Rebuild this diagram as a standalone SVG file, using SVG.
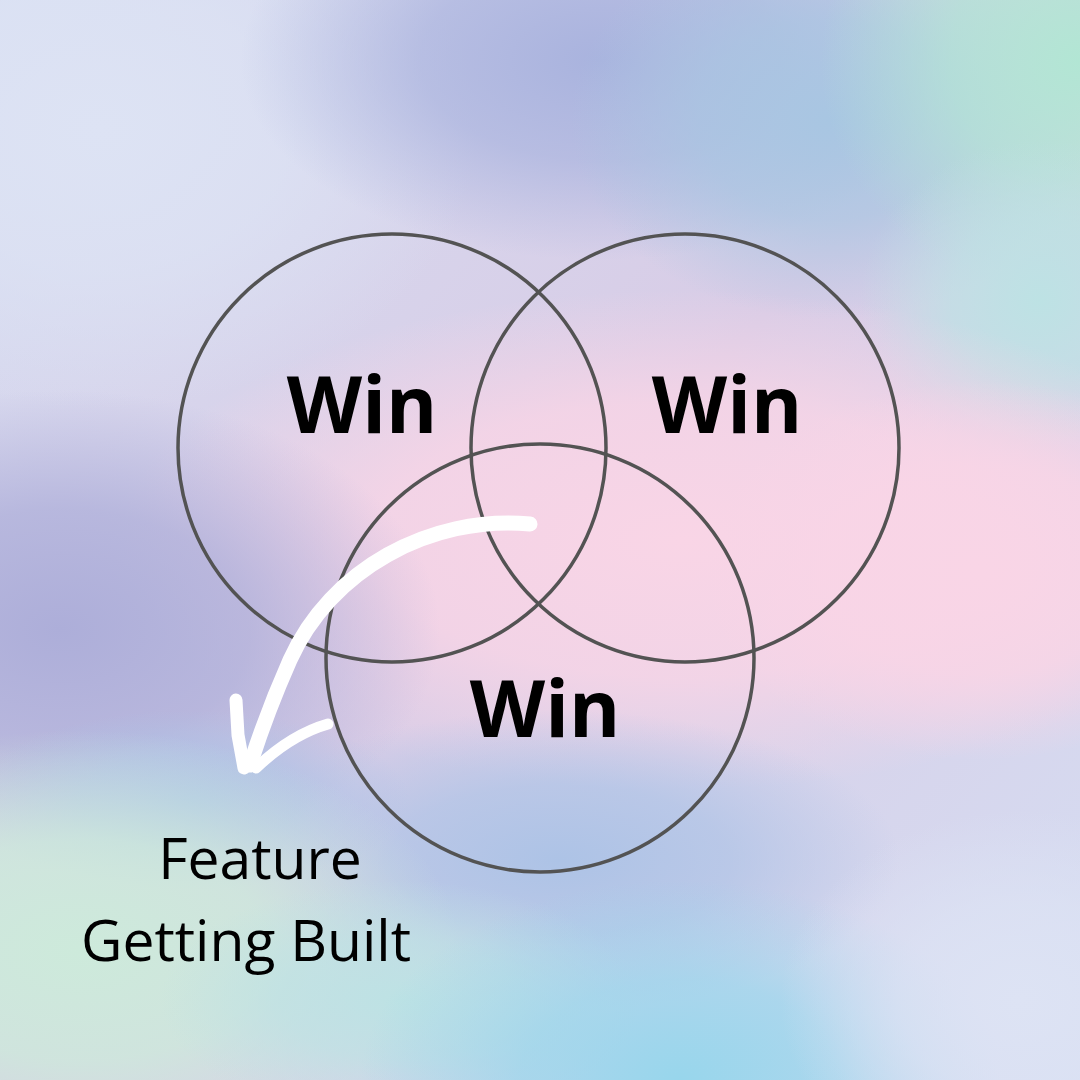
<svg xmlns="http://www.w3.org/2000/svg" width="1080" height="1080" viewBox="0 0 1080 1080">
<defs>
<linearGradient id="base" x1="0" y1="0" x2="1" y2="1">
<stop offset="0" stop-color="#d6def2"/>
<stop offset="0.5" stop-color="#d8cce6"/>
<stop offset="1" stop-color="#d5ddf2"/>
</linearGradient>
<radialGradient id="g1"><stop offset="0" stop-color="#a9b3de" stop-opacity="1"/><stop offset="0.5" stop-color="#a9b3de" stop-opacity="0.7"/><stop offset="1" stop-color="#a9b3de" stop-opacity="0"/></radialGradient>
<radialGradient id="g2"><stop offset="0" stop-color="#b2e6d4" stop-opacity="1"/><stop offset="0.5" stop-color="#b2e6d4" stop-opacity="0.7"/><stop offset="1" stop-color="#b2e6d4" stop-opacity="0"/></radialGradient>
<radialGradient id="g3"><stop offset="0" stop-color="#f9d5e6" stop-opacity="1"/><stop offset="0.55" stop-color="#f9d5e6" stop-opacity="0.8"/><stop offset="1" stop-color="#f9d5e6" stop-opacity="0"/></radialGradient>
<radialGradient id="g4"><stop offset="0" stop-color="#adaed9" stop-opacity="1"/><stop offset="0.5" stop-color="#adaed9" stop-opacity="0.75"/><stop offset="1" stop-color="#adaed9" stop-opacity="0"/></radialGradient>
<radialGradient id="g5"><stop offset="0" stop-color="#cdeadb" stop-opacity="1"/><stop offset="0.5" stop-color="#cdeadb" stop-opacity="0.8"/><stop offset="1" stop-color="#cdeadb" stop-opacity="0"/></radialGradient>
<radialGradient id="g6"><stop offset="0" stop-color="#98d6ec" stop-opacity="1"/><stop offset="0.5" stop-color="#98d6ec" stop-opacity="0.7"/><stop offset="1" stop-color="#98d6ec" stop-opacity="0"/></radialGradient>
<radialGradient id="g7"><stop offset="0" stop-color="#dde3f4" stop-opacity="1"/><stop offset="0.5" stop-color="#dde3f4" stop-opacity="0.7"/><stop offset="1" stop-color="#dde3f4" stop-opacity="0"/></radialGradient>
<radialGradient id="g8"><stop offset="0" stop-color="#adc3e6" stop-opacity="1"/><stop offset="0.5" stop-color="#adc3e6" stop-opacity="0.7"/><stop offset="1" stop-color="#adc3e6" stop-opacity="0"/></radialGradient>
<radialGradient id="g9"><stop offset="0" stop-color="#a8c6e2" stop-opacity="1"/><stop offset="0.5" stop-color="#a8c6e2" stop-opacity="0.7"/><stop offset="1" stop-color="#a8c6e2" stop-opacity="0"/></radialGradient>
<radialGradient id="g10"><stop offset="0" stop-color="#bde2e4" stop-opacity="1"/><stop offset="0.5" stop-color="#bde2e4" stop-opacity="0.7"/><stop offset="1" stop-color="#bde2e4" stop-opacity="0"/></radialGradient>
</defs>
<style>
.ring{fill:none;stroke:#535353;stroke-width:3.5}
.win{font-family:"Open Sans","Liberation Sans",sans-serif;font-weight:700;font-size:78px;fill:#000;text-anchor:middle}
.lbl{font-family:"Open Sans","Liberation Sans",sans-serif;font-weight:400;font-size:57px;fill:#000;text-anchor:middle}
.arr{fill:none;stroke:#fff;stroke-linecap:round;stroke-linejoin:round}
</style>
<g id="background">
<rect width="1080" height="1080" fill="url(#base)"/>
<ellipse cx="100" cy="130" rx="380" ry="280" fill="url(#g7)"/>
<ellipse cx="600" cy="60" rx="360" ry="200" fill="url(#g1)"/>
<ellipse cx="830" cy="120" rx="260" ry="200" fill="url(#g9)"/>
<ellipse cx="1080" cy="60" rx="260" ry="240" fill="url(#g2)"/>
<ellipse cx="1040" cy="300" rx="180" ry="160" fill="url(#g10)"/>
<ellipse cx="680" cy="540" rx="560" ry="250" fill="url(#g3)"/>
<ellipse cx="980" cy="570" rx="280" ry="190" fill="url(#g3)"/>
<ellipse cx="60" cy="630" rx="380" ry="240" fill="url(#g4)"/>
<ellipse cx="560" cy="860" rx="340" ry="150" fill="url(#g8)"/>
<ellipse cx="190" cy="800" rx="220" ry="90" fill="url(#g8)"/>
<ellipse cx="80" cy="950" rx="380" ry="220" fill="url(#g5)"/>
<ellipse cx="400" cy="1000" rx="240" ry="120" fill="url(#g10)"/>
<ellipse cx="680" cy="1080" rx="320" ry="200" fill="url(#g6)"/>
<ellipse cx="1020" cy="1000" rx="240" ry="190" fill="url(#g7)"/>
</g>
<g id="node-left"><circle class="ring" cx="392" cy="448" r="214"/><text class="win" x="362" y="433">Win</text></g>
<g id="node-right"><circle class="ring" cx="685" cy="448" r="214"/><text class="win" x="727" y="433">Win</text></g>
<g id="node-bottom"><circle class="ring" cx="540" cy="658" r="214"/><text class="win" x="545" y="737">Win</text></g>
<g id="connectors">
<path class="arr" stroke-width="15" d="M530,524 C430,515 330,570 290,660 C270,705 258,740 250,765"/>
<path class="arr" stroke-width="13" d="M236,700 L238,735 L244,768"/>
<path class="arr" stroke-width="11" d="M328,724 C300,732 275,750 256,768"/>
</g>
<g id="label">
<text class="lbl" x="260" y="879">Feature</text>
<text class="lbl" x="246" y="961">Getting Built</text>
</g>
</svg>
